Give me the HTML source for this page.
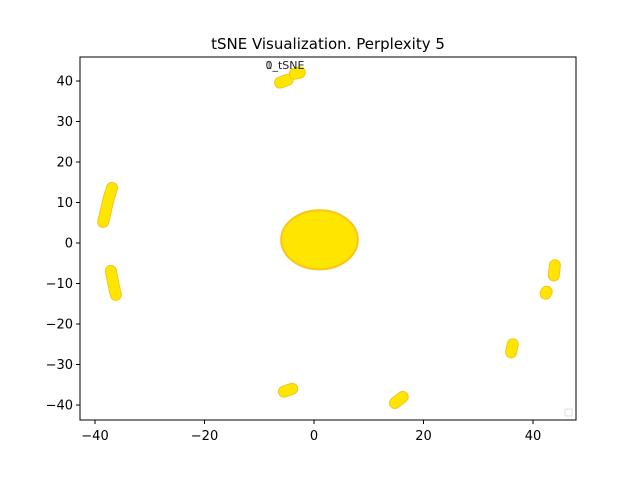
<!DOCTYPE html>
<html><head><meta charset="utf-8"><style>
body{margin:0;background:#fff;font-family:"Liberation Sans","DejaVu Sans",sans-serif}
</style></head><body>
<svg id="chart" width="640" height="472" xmlns="http://www.w3.org/2000/svg" font-family="'DejaVu Sans','Liberation Sans',sans-serif">
<text x="328" y="49" font-size="15" text-anchor="middle">tSNE Visualization. Perplexity 5</text>
<g id="marks"></g>
<rect x="80" y="57" width="496" height="363" fill="none" stroke="#000" stroke-width="1"/>
<g id="axes"></g>
<text x="285" y="69" font-size="11" text-anchor="middle" fill="#222">0_tSNE</text>
<text x="269" y="69" font-size="11" text-anchor="middle" fill="#222" opacity="0.7">1</text>
<rect x="565" y="409" width="7" height="7" rx="1" fill="#fff" stroke="#ddd"/>
</svg>
<script>
const xTicks=[-40,-20,0,20,40];
const yTicks=[-40,-30,-20,-10,0,10,20,30,40];
const strokeX=[[-6.2,-4.8],[-3.5,-2.6],[-36.9,-37.5,-38,-38.5],[-37.1,-36.8,-36.5,-36.2],[44,43.8],[42.5,42.3],[36.3,36],[-5.5,-4],[14.8,16.2]];
const strokeY=[[39.6,40.3],[41.8,42.1],[13.6,11,8,5.2],[-6.9,-9,-11,-12.8],[-5.5,-8],[-12,-12.5],[-25,-27],[-36.7,-36],[-39.5,-38]];
const blobCenter=[1,0.8];
const blobRadius=[7,7.3];
const NS="http://www.w3.org/2000/svg";
const sx=v=>314+v*5.475, sy=v=>243-v*4.05;
const marks=document.getElementById('marks'), axes=document.getElementById('axes');
function mk(t,a,p){const e=document.createElementNS(NS,t);for(const k in a)e.setAttribute(k,a[k]);p.appendChild(e);return e;}
const b=mk('ellipse',{cx:sx(blobCenter[0]),cy:sy(blobCenter[1]),rx:blobRadius[0]*5.475,ry:blobRadius[1]*4.05,fill:'#ffe600',stroke:'#f9c51a',"stroke-width":2},marks);


strokeX.forEach((xs,i)=>{
 const pts=xs.map((x,j)=>sx(x)+','+sy(strokeY[i][j])).join(' ');
 const o=mk('polyline',{points:pts,fill:'none',stroke:'#f5c518',"stroke-width":12,"stroke-linecap":"round","stroke-linejoin":"round"},marks);
 
 
 const l=mk('polyline',{points:pts,fill:'none',stroke:'#ffe600',"stroke-width":10,"stroke-linecap":"round","stroke-linejoin":"round"},marks);
 
 
});
xTicks.forEach(v=>{
 const t=mk('line',{x1:sx(v),x2:sx(v),y1:420,y2:424,stroke:'#000'},axes);
 
 
 const tx=mk('text',{x:sx(v),y:440,"font-size":13,"text-anchor":"middle"},axes);
 
 
 tx.textContent=String(v).replace('-','\u2212');
});
yTicks.forEach(v=>{
 const t=mk('line',{x1:76,x2:80,y1:sy(v),y2:sy(v),stroke:'#000'},axes);
 
 
 const tx=mk('text',{x:73,y:sy(v)+4.5,"font-size":13,"text-anchor":"end"},axes);
 
 
 tx.textContent=String(v).replace('-','\u2212');
});
</script>
</body></html>
